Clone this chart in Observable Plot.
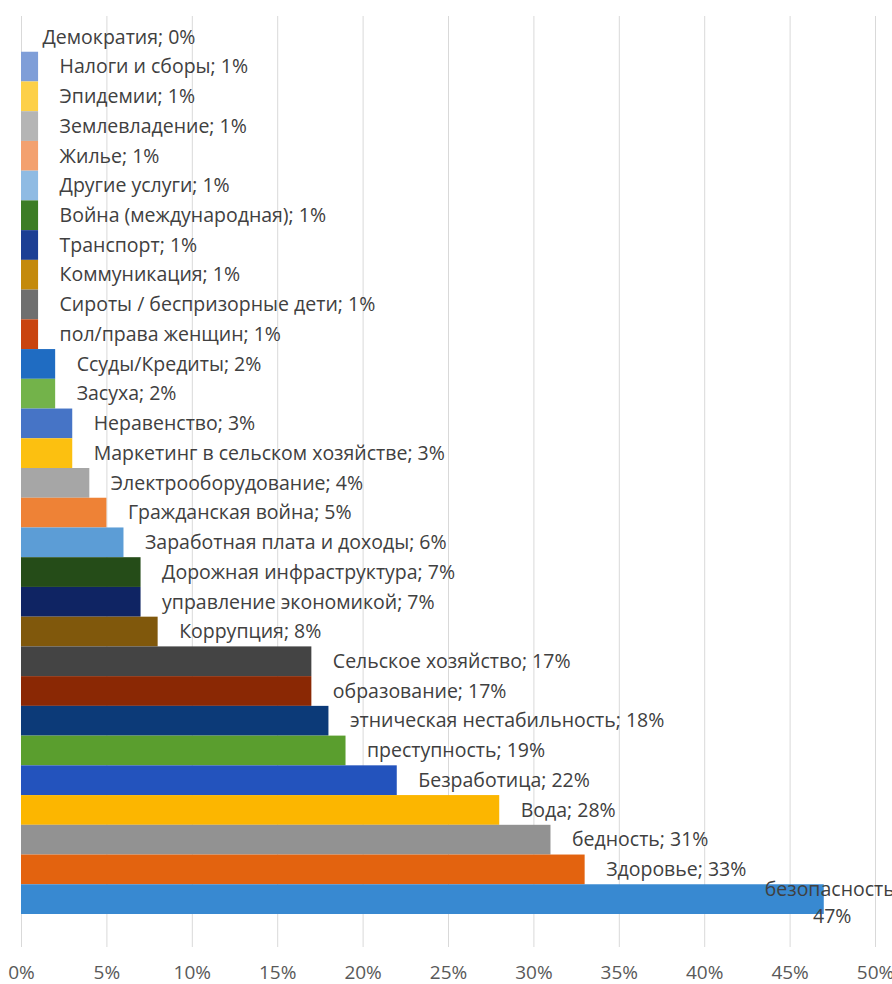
<!DOCTYPE html>
<html>
<head>
<meta charset="utf-8">
<script src="https://cdn.jsdelivr.net/npm/d3@7"></script>
<script src="https://cdn.jsdelivr.net/npm/@observablehq/plot@0.6"></script>
<style>
  html, body { margin: 0; padding: 0; background: #fff; }
  #chart { width: 892px; height: 984px; overflow: hidden; }
</style>
</head>
<body>
<div id="chart"></div>
<script>
// Categories, top to bottom
const categories = [
  "Демократия", "Налоги и сборы", "Эпидемии", "Землевладение", "Жилье",
  "Другие услуги", "Война (международная)", "Транспорт", "Коммуникация",
  "Сироты / беспризорные дети", "пол/права женщин", "Ссуды/Кредиты", "Засуха",
  "Неравенство", "Маркетинг в сельском хозяйстве", "Электрооборудование",
  "Гражданская война", "Заработная плата и доходы", "Дорожная инфраструктура",
  "управление экономикой", "Коррупция", "Сельское хозяйство", "образование",
  "этническая нестабильность", "преступность", "Безработица", "Вода",
  "бедность", "Здоровье", "безопасность"
];
// Percent values
const values = [
  0, 1, 1, 1, 1,
  1, 1, 1, 1,
  1, 1, 2, 2,
  3, 3, 4,
  5, 6, 7,
  7, 8, 17, 17,
  18, 19, 22, 28,
  31, 33, 47
];
// Bar colours
const colors = [
  "#ffffff", "#7f9ed8", "#fdd048", "#b5b5b5", "#f3a16f",
  "#8fbbe3", "#3c7d25", "#1c3f94", "#c48a0c",
  "#6f6f6f", "#c9440f", "#1f6cc2", "#73b34a",
  "#4674c6", "#fcc010", "#a6a6a6",
  "#ee8236", "#5c9dd6", "#254c18",
  "#0f2463", "#80580c", "#444444", "#8a2804",
  "#0c3a78", "#5a9e2e", "#2353bd", "#fcb600",
  "#929292", "#e3630f", "#3889d1"
];
// Axis ticks
const xTicks = [0, 5, 10, 15, 20, 25, 30, 35, 40, 45, 50];

const data = categories.map((name, i) => ({name, value: values[i], color: colors[i]}));
const wrapLimit = 40;

const chart = Plot.plot({
  width: 892,
  height: 984,
  marginLeft: 21,
  marginRight: 17,
  marginTop: 16,
  marginBottom: 37,
  style: {fontFamily: "'Open Sans', sans-serif", background: "#fff"},
  x: {domain: [0, 50], ticks: xTicks, tickFormat: d => d + "%", label: null, tickSize: 0, tickPadding: 18},
  y: {domain: categories, range: [22, 914], padding: 0, round: false, axis: null},
  marks: [
    Plot.ruleX(xTicks, {x: d => d, stroke: "#d9d9d9", strokeWidth: 1}),
    Plot.barX(data, {x: "value", y: "name", fill: "color", inset: 0}),
    Plot.axisX({ticks: xTicks, tickFormat: d => d + "%", tickSize: 0, tickPadding: 18, fontSize: 19, fill: "#595959", label: null}),
    Plot.text(data.filter(d => d.value <= wrapLimit), {
      x: "value", y: "name",
      text: d => `${d.name}; ${d.value}%`,
      textAnchor: "start", dx: 21, fontSize: 19.5, fill: "#404040"
    }),
    Plot.text(data.filter(d => d.value > wrapLimit), {
      x: "value", y: "name",
      text: d => `${d.name};\n${d.value}%`,
      textAnchor: "middle", dx: 8, dy: 1, lineHeight: 1.4, fontSize: 19.5, fill: "#404040"
    })
  ]
});
document.getElementById("chart").append(chart);
</script>
</body>
</html>
